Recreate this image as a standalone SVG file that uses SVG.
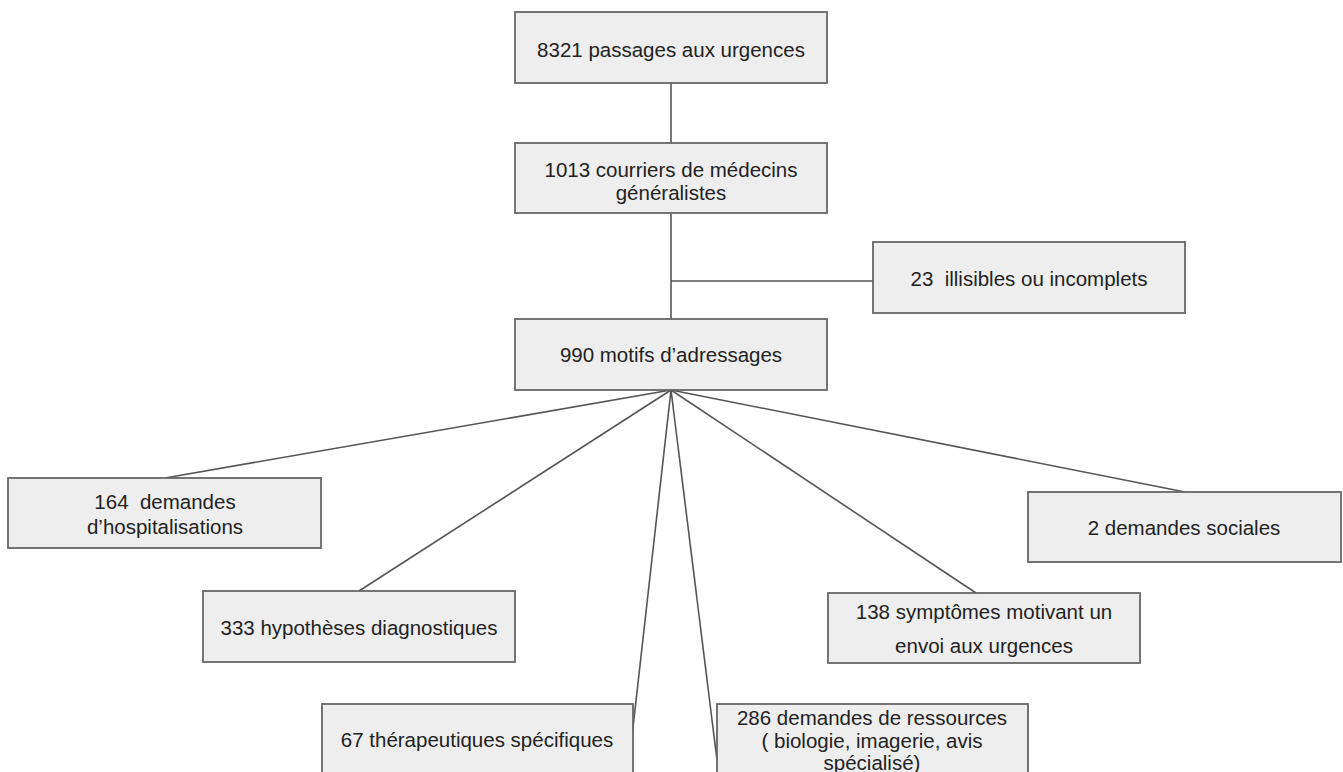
<svg xmlns="http://www.w3.org/2000/svg" width="1343" height="772" viewBox="0 0 1343 772">
<style>
.box{fill:#eeeeee;stroke:#666666;stroke-width:1.8}
.lbl{font-family:"Liberation Sans",Arial,sans-serif;font-size:20.5px;fill:#222222;text-anchor:middle;white-space:pre}
.con{stroke:#555555;stroke-width:1.6;fill:none}
</style>
<rect width="1343" height="772" fill="#ffffff"/>
<g id="connectors">
<line class="con" x1="671" y1="83" x2="671" y2="143"/>
<line class="con" x1="671" y1="213" x2="671" y2="319"/>
<line class="con" x1="671" y1="281" x2="873" y2="281"/>
<line class="con" x1="671" y1="390" x2="165" y2="478"/>
<line class="con" x1="671" y1="390" x2="359" y2="591"/>
<line class="con" x1="671" y1="390" x2="628" y2="772"/>
<line class="con" x1="671" y1="390" x2="717" y2="760"/>
<line class="con" x1="671" y1="390" x2="976" y2="593"/>
<line class="con" x1="671" y1="390" x2="1185" y2="492"/>
</g>
<g id="n1"><rect class="box" x="515" y="12" width="312" height="71"/><text class="lbl" x="671" y="57">8321 passages aux urgences</text></g>
<g id="n2"><rect class="box" x="515" y="143" width="312" height="70"/><text class="lbl" x="671" y="177">1013 courriers de médecins</text><text class="lbl" x="671" y="200">généralistes</text></g>
<g id="n3"><rect class="box" x="873" y="242" width="312" height="71"/><text class="lbl" x="1029" y="286">23  illisibles ou incomplets</text></g>
<g id="n4"><rect class="box" x="515" y="319" width="312" height="71"/><text class="lbl" x="671" y="362">990 motifs d’adressages</text></g>
<g id="n5"><rect class="box" x="8" y="478" width="313" height="70"/><text class="lbl" x="165" y="509">164  demandes</text><text class="lbl" x="165" y="534">d’hospitalisations</text></g>
<g id="n6"><rect class="box" x="1028" y="492" width="313" height="70"/><text class="lbl" x="1184" y="535">2 demandes sociales</text></g>
<g id="n7"><rect class="box" x="203" y="591" width="312" height="71"/><text class="lbl" x="359" y="635">333 hypothèses diagnostiques</text></g>
<g id="n8"><rect class="box" x="828" y="593" width="312" height="70"/><text class="lbl" x="984" y="619">138 symptômes motivant un</text><text class="lbl" x="984" y="653">envoi aux urgences</text></g>
<g id="n9"><rect class="box" x="322" y="704" width="311" height="80"/><text class="lbl" x="477" y="747">67 thérapeutiques spécifiques</text></g>
<g id="n10"><rect class="box" x="717" y="704" width="311" height="80"/><text class="lbl" x="872" y="725">286 demandes de ressources</text><text class="lbl" x="872" y="748">( biologie, imagerie, avis</text><text class="lbl" x="872" y="770">spécialisé)</text></g>
</svg>
